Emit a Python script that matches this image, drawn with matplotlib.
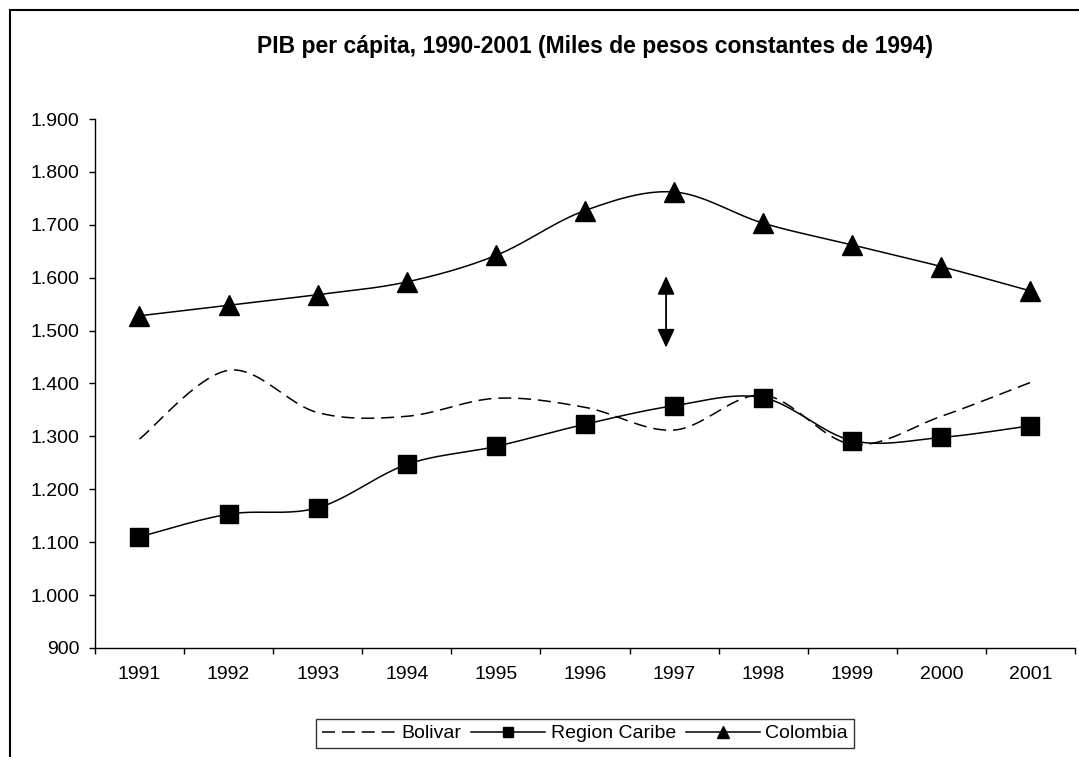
import matplotlib
matplotlib.use("Agg")
import matplotlib.pyplot as plt
from matplotlib.patches import Rectangle
from matplotlib.ticker import FuncFormatter
import numpy as np

plt.rcParams['font.family'] = ['Liberation Sans', 'DejaVu Sans']

years = ['1991', '1992', '1993', '1994', '1995', '1996',
         '1997', '1998', '1999', '2000', '2001']
bolivar = [1295, 1425, 1345, 1338, 1372, 1355, 1312, 1378, 1285, 1338, 1402]
caribe = [1110, 1153, 1165, 1247, 1281, 1323, 1358, 1373, 1292, 1298, 1320]
colombia = [1528, 1548, 1568, 1592, 1642, 1727, 1762, 1703, 1662, 1621, 1575]


def smooth(x, y, n=24):
    # Excel-style smoothed line (Catmull-Rom as cubic Bezier)
    p = np.column_stack([x, y]).astype(float)
    out = [p[0]]
    t = np.linspace(0, 1, n)[1:, None]
    for i in range(len(p) - 1):
        p0 = p[max(i - 1, 0)]
        p1 = p[i]
        p2 = p[i + 1]
        p3 = p[min(i + 2, len(p) - 1)]
        c1 = p1 + (p2 - p0) / 6
        c2 = p2 - (p3 - p1) / 6
        seg = ((1 - t) ** 3) * p1 + 3 * ((1 - t) ** 2) * t * c1 \
            + 3 * (1 - t) * t ** 2 * c2 + t ** 3 * p2
        out.extend(seg)
    out = np.array(out)
    return out[:, 0], out[:, 1]


fig = plt.figure(figsize=(10.79, 7.57), dpi=100)
ax = fig.add_axes([0.088, 0.144, 0.9083, 0.6988])

x = np.arange(len(years))
lw = 1.1

sx, sy = smooth(x, bolivar)
ax.plot(sx, sy, color='black', lw=lw, dashes=(8.5, 4.5))
ax.plot([], [], color='black', lw=lw, dashes=(8.5, 4.5), label='Bolivar')

sx, sy = smooth(x, caribe)
ax.plot(sx, sy, color='black', lw=lw)
ax.plot(x, caribe, ls='none', marker='s', ms=13, color='black')
ax.plot([], [], color='black', lw=lw, marker='s', ms=7.5, label='Region Caribe')

sx, sy = smooth(x, colombia)
ax.plot(sx, sy, color='black', lw=lw)
ax.plot(x, colombia, ls='none', marker='^', ms=14, color='black')
ax.plot([], [], color='black', lw=lw, marker='^', ms=9, label='Colombia')

ax.annotate('', xy=(5.91, 1603), xytext=(5.91, 1468),
            arrowprops=dict(arrowstyle='<|-|>,head_length=0.75,head_width=0.35',
                            color='black', lw=1.3, mutation_scale=15,
                            shrinkA=0, shrinkB=0))

ax.set_xlim(-0.5, len(years) - 0.5)
ax.set_ylim(900, 1900)
ax.set_yticks(np.arange(900, 1901, 100))
ax.yaxis.set_major_formatter(FuncFormatter(lambda v, p: f'{int(v):,}'.replace(',', '.')))
ax.set_xticks(x)
ax.set_xticklabels(years)
ax.set_xticks(np.arange(-0.5, len(years)), minor=True)
ax.tick_params(axis='x', which='major', length=0, pad=13, labelsize=14)
ax.tick_params(axis='x', which='minor', length=4, width=1, direction='out')
ax.tick_params(axis='y', length=4, width=1, pad=7, labelsize=14)
ax.spines['top'].set_visible(False)
ax.spines['right'].set_visible(False)
for s in ('left', 'bottom'):
    ax.spines[s].set_linewidth(1)

fig.text(0.551, 0.938, 'PIB per cápita, 1990-2001 (Miles de pesos constantes de 1994)',
         ha='center', va='center', fontsize=16.5, fontweight='bold')

leg = fig.legend(loc='center', bbox_to_anchor=(0.542, 0.031), ncol=3,
                 frameon=True, fancybox=False, fontsize=14, handlelength=3.8,
                 handletextpad=0.3, columnspacing=0.5, borderpad=0.3)
leg.get_frame().set_edgecolor('black')
leg.get_frame().set_linewidth(1)

fig.add_artist(Rectangle((10 / 1079, -0.05), 1.1, 1 - 10 / 757 + 0.05,
                         transform=fig.transFigure, fill=False,
                         edgecolor='black', lw=1.5))

fig.savefig('out.png', dpi=100)
